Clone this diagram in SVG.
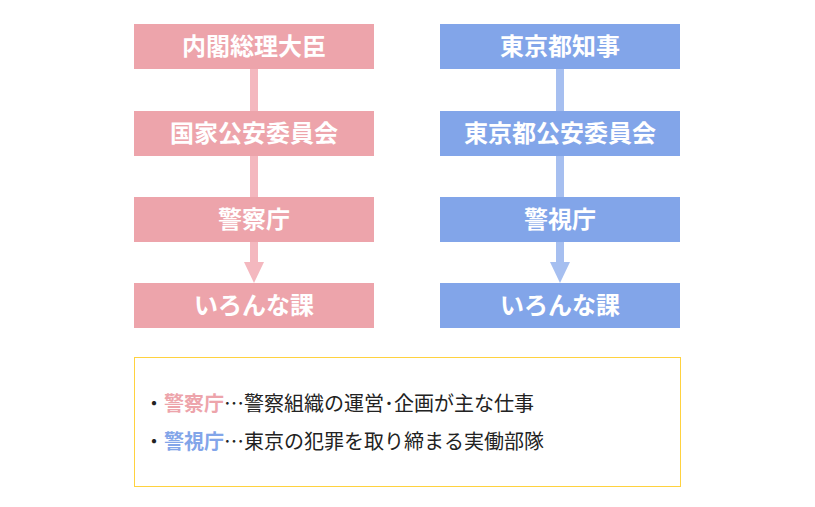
<svg xmlns="http://www.w3.org/2000/svg" width="815" height="507" viewBox="0 0 815 507">
<style>
.p{fill:#eda4ab}.b{fill:#82a5e9}
.t{font-family:"Noto Sans CJK JP",sans-serif;font-weight:bold;font-size:24px;fill:#fff;text-anchor:middle}
.n{font-family:"Noto Sans CJK JP",sans-serif;font-size:20px;fill:#222}
</style>
<rect width="815" height="507" fill="#fff"/>
<g id="connectors">
<rect x="250" y="69" width="8" height="195" fill="#f4b8bf"/>
<polygon points="244,262 264,262 254,283" fill="#f4b8bf"/>
<rect x="556" y="69" width="8" height="195" fill="#a6bff0"/>
<polygon points="550,262 570,262 560,283" fill="#a6bff0"/>
</g>
<g id="l1"><rect class="p" x="134" y="24" width="240" height="45"/><text class="t" x="254" y="55">内閣総理大臣</text></g>
<g id="l2"><rect class="p" x="134" y="111" width="240" height="45"/><text class="t" x="254" y="142">国家公安委員会</text></g>
<g id="l3"><rect class="p" x="134" y="197" width="240" height="45"/><text class="t" x="254" y="228">警察庁</text></g>
<g id="l4"><rect class="p" x="134" y="283" width="240" height="45"/><text class="t" x="254" y="314">いろんな課</text></g>
<g id="r1"><rect class="b" x="440" y="24" width="240" height="45"/><text class="t" x="560" y="55">東京都知事</text></g>
<g id="r2"><rect class="b" x="440" y="111" width="240" height="45"/><text class="t" x="560" y="142">東京都公安委員会</text></g>
<g id="r3"><rect class="b" x="440" y="197" width="240" height="45"/><text class="t" x="560" y="228">警視庁</text></g>
<g id="r4"><rect class="b" x="440" y="283" width="240" height="45"/><text class="t" x="560" y="314">いろんな課</text></g>
<g id="note">
<rect x="134.5" y="357.5" width="546" height="129" fill="#fff" stroke="#ffd23f" stroke-width="1"/>
<text class="n" x="144" y="411">・<tspan fill="#eda4ab" font-weight="bold">警察庁</tspan>…警察組織の運営･企画が主な仕事</text>
<text class="n" x="144" y="449">・<tspan fill="#82a5e9" font-weight="bold">警視庁</tspan>…東京の犯罪を取り締まる実働部隊</text>
</g>
</svg>
